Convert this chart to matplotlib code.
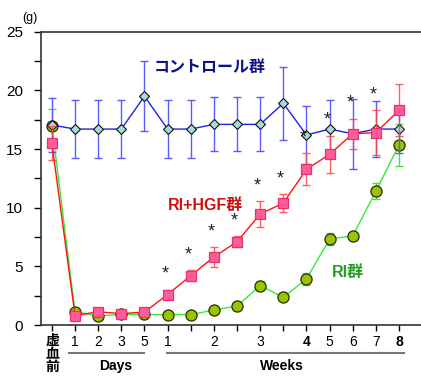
import matplotlib
matplotlib.use("Agg")
import matplotlib.pyplot as plt
import numpy as np

plt.rcParams['font.family'] = ['Liberation Sans', 'Noto Sans CJK JP', 'DejaVu Sans']

# x categories: pre-ischemia, days 1,2,3,5, weeks 1..8 (with half-week points)
tick_labels = ['', '1', '2', '3', '5', '1', '', '2', '', '3', '', '4', '5', '6', '7', '8']
bold_ticks = [False, False, False, False, False, False, False, False, False, False, False,
              True, False, False, False, True]

control = [17.05, 16.7, 16.7, 16.7, 19.5, 16.7, 16.7, 17.1, 17.1, 17.1, 18.9, 16.2, 16.7, 16.3, 16.7, 16.7]
control_err = [2.3, 2.5, 2.5, 2.5, 3.0, 2.5, 2.5, 2.3, 2.3, 2.3, 3.1, 2.5, 2.5, 3.0, 2.4, 2.0]

hgf = [15.5, 0.8, 1.13, 0.97, 1.1, 2.6, 4.2, 5.8, 7.1, 9.45, 10.4, 13.27, 14.55, 16.3, 16.4, 18.3]
hgf_err = [1.45, 0.15, 0.15, 0.15, 0.15, 0.4, 0.45, 0.85, 0.45, 1.1, 0.75, 1.35, 1.6, 1.3, 1.9, 2.2]

ri = [17.0, 1.13, 0.77, 0.9, 0.9, 0.88, 0.88, 1.28, 1.62, 3.35, 2.36, 3.92, 7.33, 7.6, 11.4, 15.35]
ri_err = [1.4, 0.1, 0.1, 0.1, 0.1, 0.1, 0.1, 0.1, 0.15, 0.4, 0.2, 0.5, 0.5, 0.35, 0.7, 1.8]

signif = [False, False, False, False, False, True, True, True, True, True, True,
          True, True, True, True, False]

x = np.arange(len(control))

fig = plt.figure(figsize=(4.21, 3.76), dpi=100)
ax = fig.add_axes([0.0974, 0.1356, 0.9026, 0.7801])

ax.errorbar(x, ri, yerr=ri_err, fmt='none', ecolor='#44dd44', elinewidth=1, capsize=3, zorder=2)
ax.plot(x, ri, '-', color='#33ee33', lw=1, zorder=3)
ax.plot(x, ri, 'o', ms=8, mfc='#99c400', mec='#2a2a00', mew=0.9, zorder=4)

ax.errorbar(x, control, yerr=control_err, fmt='none', ecolor='#5a5aff', elinewidth=1, capsize=3, zorder=5)
ax.plot(x, control, '-', color='#2020ee', lw=1, zorder=6)
ax.plot(x, control, 'D', ms=5.5, mfc='#a8dada', mec='#111111', mew=0.8, zorder=7)

ax.errorbar(x, hgf, yerr=hgf_err, fmt='none', ecolor='#ff4444', elinewidth=1, capsize=3, alpha=0.85, zorder=8)
ax.plot(x, hgf, '-', color='#ff1111', lw=1, zorder=9)
ax.plot(x, hgf, 's', ms=6.5, mfc='#ff5c9a', mec='#e8306a', mew=0.9, zorder=10)

for xi, yi, ei, s in zip(x, hgf, hgf_err, signif):
    if s:
        ax.annotate('*', xy=(xi, yi + ei), xytext=(-2, 5), textcoords='offset points',
                    ha='center', va='bottom', fontsize=13, color='#222222', zorder=11)

ax.set_xlim(-0.47, 15.95)
ax.set_ylim(0, 25)
ax.set_yticks([0, 5, 10, 15, 20, 25])
ax.set_yticks(np.arange(2.5, 25, 5), minor=True)
ax.tick_params(axis='y', which='both', direction='out', length=5, width=1, labelsize=11, pad=8)
ax.set_xticks(x)
ax.set_xticklabels(tick_labels, fontsize=10)
for lbl, b in zip(ax.get_xticklabels(), bold_ticks):
    if b:
        lbl.set_fontweight('bold')
ax.tick_params(axis='x', direction='out', length=4, width=1, pad=3)

ax.spines['right'].set_visible(False)
for sp in ['left', 'bottom', 'top']:
    ax.spines[sp].set_color('#333333')
    ax.spines[sp].set_linewidth(1.2)

# group labels
ax.text(4.4, 22.0, 'コントロール群', color='#101088', fontsize=11.5, fontweight='bold',
        family='Noto Sans CJK JP', va='center')
ax.text(5.0, 10.2, 'RI+HGF群', color='#cc1111', fontsize=11.5, fontweight='bold',
        family=['Liberation Sans', 'Noto Sans CJK JP'], va='center')
ax.text(12.1, 4.5, 'RI群', color='#22a022', fontsize=11.5, fontweight='bold',
        family=['Liberation Sans', 'Noto Sans CJK JP'], va='center')

# unit label
fig.text(0.071, 0.951, '(g)', fontsize=9, ha='center', va='center')

# pre-ischemia label (vertical)
fig.text(0.1235, 0.058, '虚\n血\n前', fontsize=10, fontweight='bold', family='Noto Sans CJK JP',
         ha='center', va='center', linespacing=0.9)

# Days / Weeks brackets
trans = ax.get_xaxis_transform()
ax.plot([0.73, 4.0], [-0.095, -0.095], transform=trans, color='#777777', lw=1.5, clip_on=False)
ax.plot([4.98, 15.2], [-0.095, -0.095], transform=trans, color='#777777', lw=1.5, clip_on=False)
ax.text(2.77, -0.14, 'Days', transform=trans, ha='center', va='center', fontsize=10, fontweight='bold')
ax.text(9.95, -0.14, 'Weeks', transform=trans, ha='center', va='center', fontsize=10, fontweight='bold')

fig.savefig('out.png', dpi=100)
